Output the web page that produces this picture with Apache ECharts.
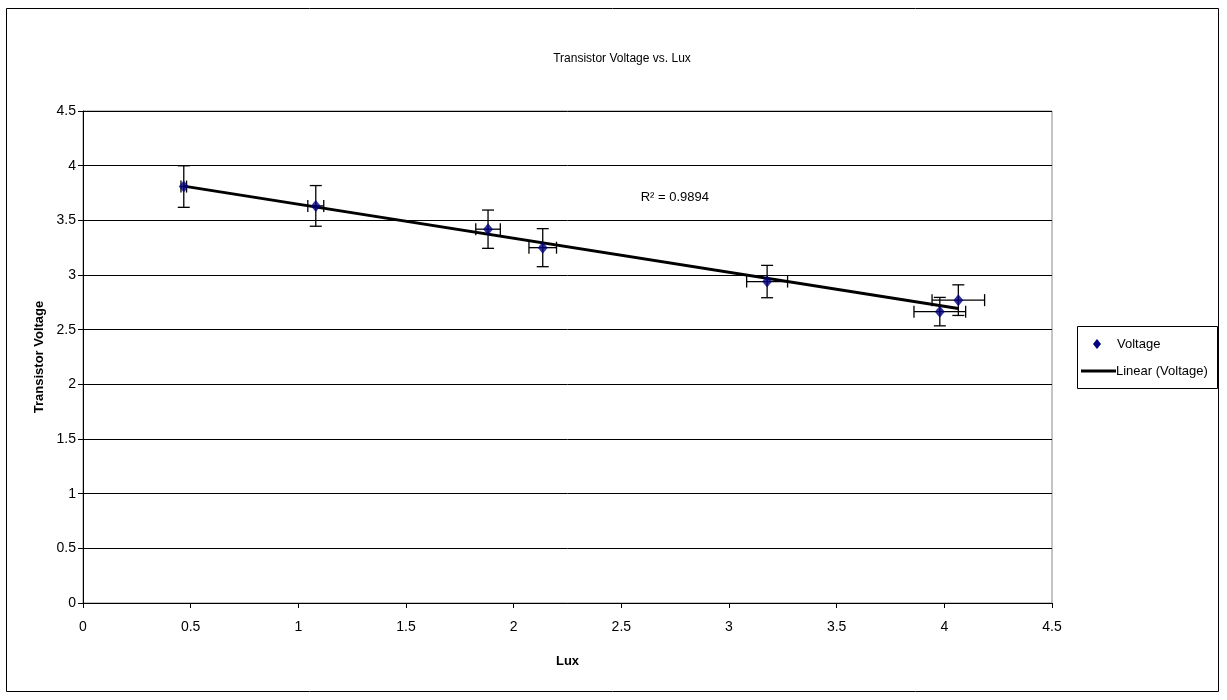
<!DOCTYPE html>
<html>
<head>
<meta charset="utf-8">
<script src="https://cdn.jsdelivr.net/npm/echarts@6/dist/echarts.min.js"></script>
<style>
  html, body { margin: 0; padding: 0; background: #fff; }
  #chart { width: 1227px; height: 700px; }
</style>
</head>
<body>
<div id="chart"></div>
<script>
// Measured illuminance (lux) and transistor voltage, with uncertainties
const lux        = [0.468, 1.081, 1.881, 2.135, 3.177, 3.979, 4.065];
const voltage    = [3.809, 3.632, 3.419, 3.250, 2.940, 2.665, 2.770];
const luxErr     = [0.013, 0.037, 0.057, 0.064, 0.095, 0.120, 0.122];
const voltageErr = [0.190, 0.186, 0.175, 0.174, 0.148, 0.130, 0.140];
const axisTicks  = [0, 0.5, 1, 1.5, 2, 2.5, 3, 3.5, 4, 4.5];
const r2Text     = 'R\u00B2 = 0.9894';

// Least-squares fit for the linear trendline
function linearFit(xs, ys) {
  const n = xs.length;
  const mx = xs.reduce((a, b) => a + b, 0) / n;
  const my = ys.reduce((a, b) => a + b, 0) / n;
  let sxy = 0, sxx = 0;
  for (let i = 0; i < n; i++) {
    sxy += (xs[i] - mx) * (ys[i] - my);
    sxx += (xs[i] - mx) * (xs[i] - mx);
  }
  const slope = sxy / sxx;
  return { slope, intercept: my - slope * mx };
}
const fit = linearFit(lux, voltage);
const xMinData = Math.min(...lux), xMaxData = Math.max(...lux);
const trend = [
  [xMinData, fit.intercept + fit.slope * xMinData],
  [xMaxData, fit.intercept + fit.slope * xMaxData]
];

const points = lux.map((x, i) => [x, voltage[i]]);
const errData = lux.map((x, i) => [x, voltage[i], luxErr[i], voltageErr[i]]);

const FONT = '"Liberation Sans", Arial, sans-serif';
const chart = echarts.init(document.getElementById('chart'));

function renderErrorBar(params, api) {
  const x = api.value(0), y = api.value(1), ex = api.value(2), ey = api.value(3);
  const top = api.coord([x, y + ey]);
  const bot = api.coord([x, y - ey]);
  const lft = api.coord([x - ex, y]);
  const rgt = api.coord([x + ex, y]);
  const cap = 6;
  const style = { stroke: '#000', lineWidth: 1.3 };
  const line = (x1, y1, x2, y2) => ({ type: 'line', shape: { x1, y1, x2, y2 }, style });
  return {
    type: 'group',
    children: [
      line(top[0], top[1], bot[0], bot[1]),
      line(top[0] - cap, top[1], top[0] + cap, top[1]),
      line(bot[0] - cap, bot[1], bot[0] + cap, bot[1]),
      line(lft[0], lft[1], rgt[0], rgt[1]),
      line(lft[0], lft[1] - cap, lft[0], lft[1] + cap),
      line(rgt[0], rgt[1] - cap, rgt[0], rgt[1] + cap)
    ]
  };
}

const tickText = v => {
  const t = axisTicks.find(t => Math.abs(t - v) < 1e-9);
  return String(t === undefined ? v : t);
};

const option = {
  animation: false,
  backgroundColor: '#fff',
  textStyle: { fontFamily: FONT },
  title: {
    text: 'Transistor Voltage vs. Lux',
    left: 617, top: 48, textAlign: 'center',
    textStyle: { fontFamily: FONT, fontSize: 12, fontWeight: 'normal', color: '#000' }
  },
  grid: { left: 83, right: 175, top: 111, bottom: 97, containLabel: false,
          show: true, borderColor: '#888', borderWidth: 1 },
  xAxis: {
    type: 'value', min: 0, max: 4.5, interval: 0.5,
    name: 'Lux', nameLocation: 'middle', nameGap: 52,
    nameTextStyle: { fontFamily: FONT, fontSize: 13, fontWeight: 'bold', color: '#000' },
    axisLine: { show: true, onZero: false, lineStyle: { color: '#000', width: 1 } },
    axisTick: { show: true, inside: false, length: 5, lineStyle: { color: '#000' } },
    axisLabel: { color: '#000', fontSize: 14, fontFamily: FONT, margin: 17, formatter: tickText },
    splitLine: { show: false }
  },
  yAxis: {
    type: 'value', min: 0, max: 4.5, interval: 0.5,
    name: 'Transistor Voltage', nameLocation: 'middle', nameGap: 37, nameRotate: 90,
    nameTextStyle: { fontFamily: FONT, fontSize: 13, fontWeight: 'bold', color: '#000' },
    axisLine: { show: true, onZero: false, lineStyle: { color: '#000', width: 1 } },
    axisTick: { show: true, inside: false, length: 5, lineStyle: { color: '#000' } },
    axisLabel: { color: '#000', fontSize: 14, fontFamily: FONT, margin: 7, formatter: tickText },
    splitLine: { show: true, lineStyle: { color: '#000', width: 1 } }
  },
  series: [
    {
      name: 'Error', type: 'custom', renderItem: renderErrorBar,
      data: errData, z: 2, silent: true,
      encode: { x: 0, y: 1 }
    },
    {
      name: 'Linear (Voltage)', type: 'line', data: trend, showSymbol: false,
      lineStyle: { color: '#000', width: 3 }, z: 3, silent: true
    },
    {
      name: 'Voltage', type: 'scatter', data: points, symbol: 'diamond',
      symbolSize: [10, 12], itemStyle: { color: '#000080' }, z: 4
    }
  ]
};
chart.setOption(option);

// Frame, legend box and R² annotation (anchored to data coordinates)
const r2Pos = chart.convertToPixel({ gridIndex: 0 }, [2.59, 3.705]);
chart.setOption({
  graphic: [
    { type: 'rect', shape: { x: 6.5, y: 8.5, width: 1212, height: 683 },
      style: { fill: 'none', stroke: '#000', lineWidth: 1 }, z: 100, silent: true },
    { type: 'rect', shape: { x: 1077.5, y: 326.5, width: 140, height: 62 },
      style: { fill: '#fff', stroke: '#000', lineWidth: 1 }, silent: true },
    { type: 'polygon', shape: { points: [[1097, 339], [1101, 344], [1097, 349], [1093, 344]] },
      style: { fill: '#000080' }, silent: true },
    { type: 'text', x: 1117, y: 344,
      style: { text: 'Voltage', fontFamily: FONT, fontSize: 13, fill: '#000', verticalAlign: 'middle' } },
    { type: 'line', shape: { x1: 1081, y1: 371, x2: 1116, y2: 371 },
      style: { stroke: '#000', lineWidth: 3 }, silent: true },
    { type: 'text', x: 1116, y: 371,
      style: { text: 'Linear (Voltage)', fontFamily: FONT, fontSize: 13, fill: '#000', verticalAlign: 'middle' } },
    { type: 'text', x: r2Pos[0], y: r2Pos[1],
      style: { text: r2Text, fontFamily: FONT, fontSize: 13, fill: '#000', verticalAlign: 'middle' } }
  ]
});
</script>
</body>
</html>
